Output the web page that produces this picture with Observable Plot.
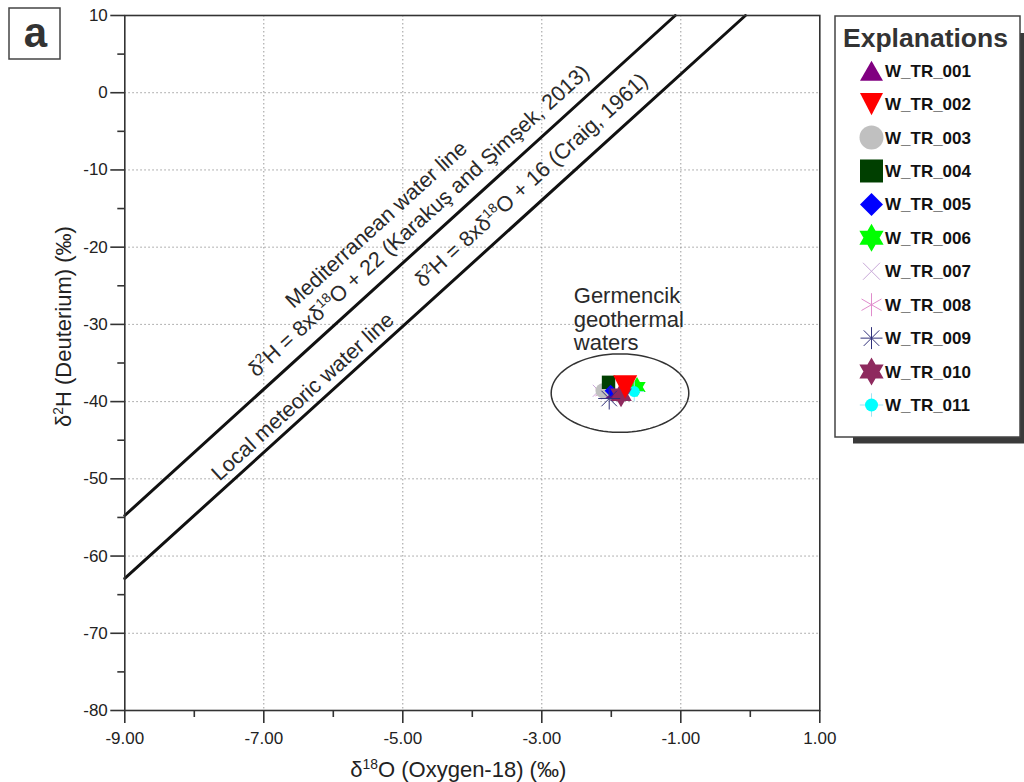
<!DOCTYPE html>
<html><head><meta charset="utf-8">
<script src="https://cdn.jsdelivr.net/npm/d3@7"></script>
<script src="https://cdn.jsdelivr.net/npm/@observablehq/plot@0.6"></script>
<style>
html,body{margin:0;padding:0;background:#fff;}
#wrap{position:relative;width:1024px;height:782px;overflow:hidden;background:#fff;}
#wrap > svg{position:absolute;left:0;top:0;}
</style></head><body><div id="wrap"></div>
<script>
// ---------- data ----------
const samples = ["W_TR_001","W_TR_002","W_TR_003","W_TR_004","W_TR_005","W_TR_006","W_TR_007","W_TR_008","W_TR_009","W_TR_010","W_TR_011"];
const d18O = [-1.98, -1.80, -2.12, -2.04, -2.01, -1.63, -2.18, -2.14, -2.03, -1.86, -1.67];
const d2H  = [-38.7, -38.1, -38.6, -37.5, -38.6, -38.1, -38.6, -38.8, -39.6, -39.1, -38.7];

const xTicks = [-9, -7, -5, -3, -1, 1];
const xMinor = [-8, -6, -4, -2, 0];
const yTicks = [10, 0, -10, -20, -30, -40, -50, -60, -70, -80];
const yMinor = [5, -5, -15, -25, -35, -45, -55, -65, -75];
const xGrid = [-7, -5, -3, -1];
const yGrid = [0, -10, -20, -30, -40, -50, -60, -70];

// reference lines (as drawn)
const medLineX = [-9, -1.08];
const medLineY = [-54.75, 10];
const lmwlLineX = [-9, -0.07];
const lmwlLineY = [-62.9, 10];

// ellipse around the geothermal waters
const ellCenter = [-1.875, -38.9];
const ellRadius = [0.99, 5.08];

// annotation labels
const annoText = ["Mediterranean water line",
  "δ²H = 8xδ¹⁸O + 22 (Karakuş and Şimşek, 2013)",
  "Local meteoric water line",
  "δ²H = 8xδ¹⁸O + 16 (Craig, 1961)"];
const annoX = [-5.38, -4.77, -6.44, -3.15];
const annoY = [-17.08, -16.6, -39.35, -11.34];
const groupLabel = "Germencik\ngeothermal\nwaters";
const groupX = -2.54, groupY = -25.07;

const xLabel = "δ¹⁸O (Oxygen-18) (‰)";
const yLabel = "δ²H (Deuterium) (‰)";
const legendTitle = "Explanations";
const panelLabel = "a";

// ---------- styles ----------
const FONT = "'Liberation Sans', Arial, Helvetica, sans-serif";
const shapes = {
  triUp: (p, r) => { const h = r * 1.73; p.moveTo(0, -h/2); p.lineTo(r, h/2); p.lineTo(-r, h/2); p.closePath(); },
  triDown: (p, r) => { const h = r * 1.95; p.moveTo(-r, -h/2); p.lineTo(r, -h/2); p.lineTo(0, h/2); p.closePath(); },
  circle: (p, r) => { p.moveTo(r, 0); p.arc(0, 0, r, 0, 2*Math.PI); p.closePath(); },
  square: (p, r) => { p.rect(-r, -r, 2*r, 2*r); },
  diamond: (p, r) => { p.moveTo(0, -r); p.lineTo(r, 0); p.lineTo(0, r); p.lineTo(-r, 0); p.closePath(); },
  hexagram: (p, R) => { const c = R*Math.cos(Math.PI/6);
    p.moveTo(0, -R); p.lineTo(c, R/2); p.lineTo(-c, R/2); p.closePath();
    p.moveTo(0, R); p.lineTo(-c, -R/2); p.lineTo(c, -R/2); p.closePath(); },
  times: (p, r) => { p.moveTo(-r, -r); p.lineTo(r, r); p.moveTo(r, -r); p.lineTo(-r, r); },
  asterisk6: (p, r) => { for (const a of [90, 30, 150]) { const t = a*Math.PI/180;
    p.moveTo(r*Math.cos(t), -r*Math.sin(t)); p.lineTo(-r*Math.cos(t), r*Math.sin(t)); } },
  asterisk8: (p, r) => { for (const a of [0, 45, 90, 135]) { const t = a*Math.PI/180;
    p.moveTo(r*Math.cos(t), -r*Math.sin(t)); p.lineTo(-r*Math.cos(t), r*Math.sin(t)); } },
  plus: (p, r) => { p.moveTo(-r, 0); p.lineTo(r, 0); p.moveTo(0, -r); p.lineTo(0, r); }
};
const sym = f => ({draw(ctx, size) { f(ctx, Math.sqrt(size / Math.PI)); }});

// per-sample style: shape, fill, stroke, plot size, legend size
const style = {
  "W_TR_001": {shape: "triUp", fill: "#800080", r: 8, lr: 11.5},
  "W_TR_002": {shape: "triDown", fill: "#ff0000", r: 12, lr: 11.5},
  "W_TR_003": {shape: "circle", fill: "#c0c0c0", r: 7.5, lr: 12},
  "W_TR_004": {shape: "square", fill: "#003f00", r: 6.7, lr: 11.5},
  "W_TR_005": {shape: "diamond", fill: "#0000ff", r: 6, lr: 11.5},
  "W_TR_006": {shape: "hexagram", fill: "#00ff00", r: 10, lr: 14},
  "W_TR_007": {shape: "times", stroke: "#c8a8d8", r: 6, lr: 8.5},
  "W_TR_008": {shape: "asterisk6", stroke: "#e08ccc", r: 7, lr: 11.5},
  "W_TR_009": {shape: "asterisk8", stroke: "#30307a", r: 11, lr: 11},
  "W_TR_010": {shape: "hexagram", fill: "#8e2a5e", r: 12.5, lr: 14},
  "W_TR_011": {shape: "circle", fill: "#00ffff", r: 5.5, lr: 6.5, extra: {shape: "plus", stroke: "#9fe4f4", k: 1.8}}
};
const drawOrder = [0, 6, 7, 2, 3, 4, 5, 10, 9, 1, 8];

// ---------- plot ----------
const pts = samples.map((s, i) => ({s, x: d18O[i], y: d2H[i]}));
const dotMarks = [];
for (const i of drawOrder) {
  const st = style[samples[i]];
  if (st.extra) {
    dotMarks.push(Plot.dot([pts[i]], {x: "x", y: "y", symbol: sym(shapes[st.extra.shape]), r: st.r * st.extra.k,
      fill: "none", stroke: st.extra.stroke, strokeWidth: 1}));
  }
  dotMarks.push(Plot.dot([pts[i]], {x: "x", y: "y", symbol: sym(shapes[st.shape]), r: st.r,
    fill: st.fill || "none", stroke: st.stroke || "none", strokeWidth: st.stroke ? 1 : 0}));
}
const medLine = medLineX.map((x, i) => ({x, y: medLineY[i]}));
const lmwlLine = lmwlLineX.map((x, i) => ({x, y: lmwlLineY[i]}));
const ellipse = d3.range(0, 361, 4).map(a => ({
  x: ellCenter[0] + ellRadius[0]*Math.cos(a*Math.PI/180),
  y: ellCenter[1] + ellRadius[1]*Math.sin(a*Math.PI/180)}));
const annos = annoText.map((t, i) => ({t, x: annoX[i], y: annoY[i]}));

const chart = Plot.plot({
  width: 830, height: 782,
  marginLeft: 124.3, marginRight: 10.7, marginTop: 15, marginBottom: 72,
  x: {domain: [-9, 1], label: null},
  y: {domain: [-80, 10], label: null},
  style: {fontFamily: FONT, fontSize: "17px", color: "#222", background: "transparent", overflow: "visible"},
  marks: [
    Plot.gridX(xGrid, {stroke: "#9a9a9a", strokeOpacity: 1, strokeWidth: 1, strokeDasharray: "1.5,2.5"}),
    Plot.gridY(yGrid, {stroke: "#9a9a9a", strokeOpacity: 1, strokeWidth: 1, strokeDasharray: "1.5,2.5"}),
    Plot.axisX(xTicks, {tickSize: 13, tickPadding: 8, tickFormat: d => d.toFixed(2), fontSize: 17, label: null, strokeWidth: 1.6, stroke: "#333", fill: "#222"}),
    Plot.axisX(xMinor, {tickSize: 7, tickFormat: () => "", label: null, strokeWidth: 1.6, stroke: "#333"}),
    Plot.axisY(yTicks, {tickSize: 14, tickPadding: 3, tickFormat: d => String(d), fontSize: 17, label: null, strokeWidth: 1.6, stroke: "#333", fill: "#222"}),
    Plot.axisY(yMinor, {tickSize: 7, tickFormat: () => "", label: null, strokeWidth: 1.6, stroke: "#333"}),
    Plot.line(medLine, {x: "x", y: "y", stroke: "#111", strokeWidth: 3}),
    Plot.line(lmwlLine, {x: "x", y: "y", stroke: "#111", strokeWidth: 3}),
    Plot.line(ellipse, {x: "x", y: "y", stroke: "#333", strokeWidth: 1.5}),
    Plot.text(annos, {x: "x", y: "y", text: "t", rotate: -42.3, fontSize: 21.5, fill: "#2a2a2a", textAnchor: "middle", lineAnchor: "middle"}),
    Plot.text([groupLabel], {x: () => groupX, y: () => groupY, text: d => d, fontSize: 22, fill: "#2a2a2a", textAnchor: "start", lineAnchor: "top", lineHeight: 1.07}),
    ...dotMarks,
    Plot.frame({stroke: "#333", strokeWidth: 1.6}),
    Plot.text([xLabel], {frameAnchor: "bottom", dx: -14, dy: 59, text: d => d, fontSize: 22, fill: "#222", lineAnchor: "middle"}),
    Plot.text([yLabel], {frameAnchor: "left", dx: -61.3, dy: 64, rotate: -90, text: d => d, fontSize: 22, fill: "#222", lineAnchor: "middle"})
  ]
});
document.getElementById("wrap").appendChild(chart);

// render Unicode superscript digits as real raised, smaller text
const SUP = {"⁰":"0","¹":"1","²":"2","³":"3","⁴":"4","⁵":"5","⁶":"6","⁷":"7","⁸":"8","⁹":"9"};
function supify(el) {
  const txt = el.textContent;
  if (!/[⁰¹²³⁴⁵⁶⁷⁸⁹]/.test(txt) || el.querySelector("tspan")) return;
  const fs = parseFloat(getComputedStyle(el).fontSize);
  const segs = [];
  for (const ch of txt) {
    const sup = ch in SUP, c = sup ? SUP[ch] : ch;
    if (segs.length && segs[segs.length - 1].sup === sup) segs[segs.length - 1].s += c;
    else segs.push({sup, s: c});
  }
  el.textContent = "";
  let shifted = 0;
  for (const sg of segs) {
    const t = document.createElementNS("http://www.w3.org/2000/svg", "tspan");
    t.textContent = sg.s;
    const target = sg.sup ? -0.36 * fs : 0;
    if (target !== shifted) t.setAttribute("dy", target - shifted);
    shifted = target;
    if (sg.sup) t.setAttribute("font-size", 0.63 * fs);
    el.appendChild(t);
  }
}
chart.querySelectorAll("text").forEach(supify);

// ---------- overlay: panel label & legend ----------
const ov = d3.select("#wrap").append("svg").attr("width", 1024).attr("height", 782)
  .style("font-family", FONT).style("pointer-events", "none");
ov.append("rect").attr("x", 9).attr("y", 8).attr("width", 51).attr("height", 51)
  .attr("fill", "#fff").attr("stroke", "#444").attr("stroke-width", 1.5);
ov.append("text").attr("x", 35.5).attr("y", 46.5).attr("text-anchor", "middle")
  .attr("font-size", 42).attr("font-weight", "bold").attr("fill", "#333").text(panelLabel);

ov.append("rect").attr("x", 1020).attr("y", 33).attr("width", 8).attr("height", 410).attr("fill", "#3a3a3a");
ov.append("rect").attr("x", 853).attr("y", 437).attr("width", 175).attr("height", 6.5).attr("fill", "#3a3a3a");
ov.append("rect").attr("x", 835).attr("y", 16).attr("width", 185).attr("height", 421)
  .attr("fill", "#fff").attr("stroke", "#444").attr("stroke-width", 1.5);
ov.append("text").attr("x", 843).attr("y", 46.7).attr("font-size", 26.5).attr("font-weight", "bold")
  .attr("fill", "#333").text(legendTitle);

samples.forEach((s, i) => {
  const st = style[s];
  const cy = 70.7 + 33.43 * i, cx = 871.5;
  const g = ov.append("g").attr("transform", `translate(${cx},${cy})`);
  if (st.extra) {
    const p = d3.path(); shapes[st.extra.shape](p, st.lr * st.extra.k);
    g.append("path").attr("d", p.toString()).attr("fill", "none").attr("stroke", st.extra.stroke).attr("stroke-width", 1);
  }
  const p = d3.path(); shapes[st.shape](p, st.lr);
  g.append("path").attr("d", p.toString()).attr("fill", st.fill || "none")
    .attr("stroke", st.stroke || "none").attr("stroke-width", st.stroke ? 1 : 0);
  ov.append("text").attr("x", 885).attr("y", cy + 6).attr("font-size", 17).attr("font-weight", "bold")
    .attr("fill", "#111").text(s);
});
</script></body></html>
